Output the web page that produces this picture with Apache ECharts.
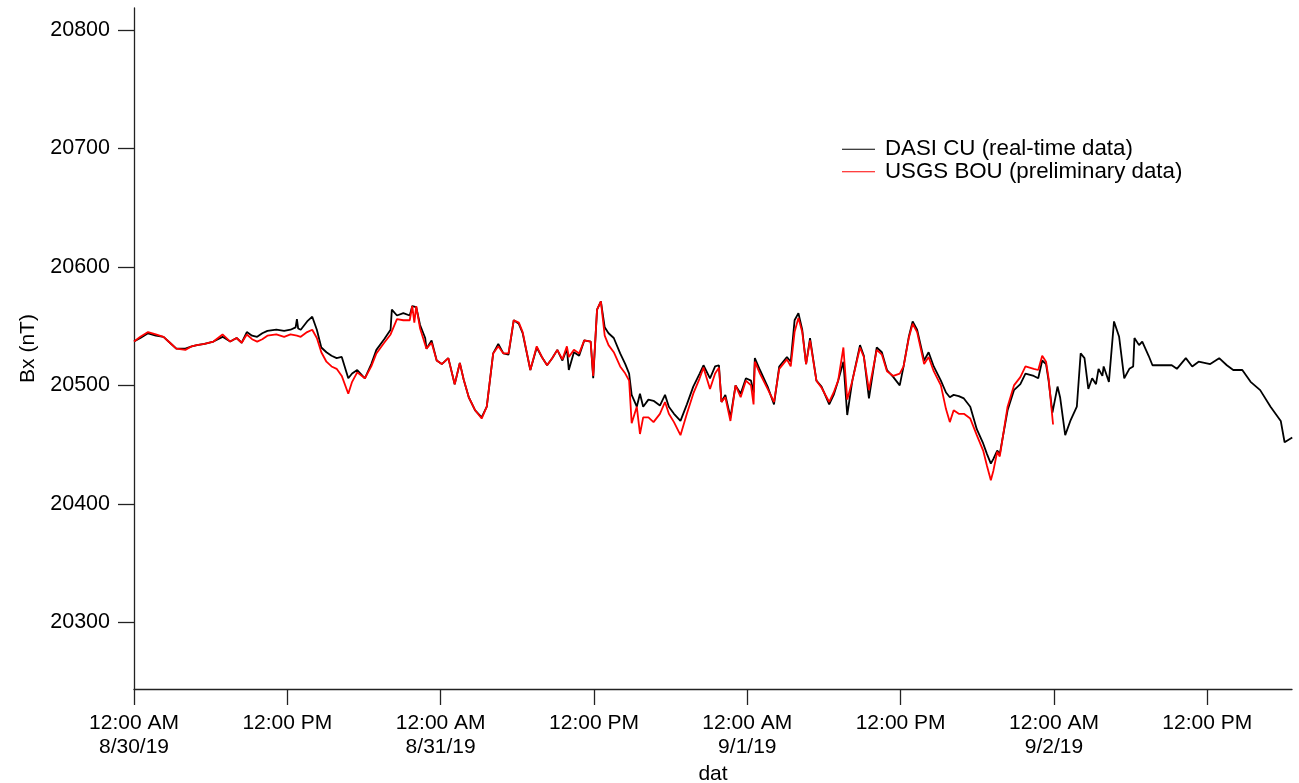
<!DOCTYPE html>
<html>
<head>
<meta charset="utf-8">
<script src="https://cdn.jsdelivr.net/npm/echarts@6/dist/echarts.min.js"></script>
<style>
html,body{margin:0;padding:0;background:#fff;}
#chart{width:1299px;height:783px;}
</style>
</head>
<body>
<div id="chart"></div>
<script>
// ---- Data (hours since 8/30/19 12:00 AM, Bx in nT) ----
const dasiHours = [0,0.5,1.1,1.71,2.31,2.81,3.31,4.02,4.52,4.92,5.52,6.22,6.93,7.53,8.03,8.43,8.83,9.24,9.64,10.04,10.44,11.14,11.75,12.25,12.65,12.75,12.85,13.05,13.55,13.95,14.31,14.66,15.06,15.46,15.86,16.26,16.77,17.07,17.47,18.07,18.57,18.97,19.58,20.08,20.18,20.58,21.08,21.58,21.78,22.09,22.39,22.79,22.89,23.29,23.69,24.09,24.6,25.1,25.5,25.8,26.2,26.7,27.21,27.61,28.11,28.51,28.91,29.31,29.72,30.12,30.42,31.02,31.52,31.92,32.33,32.73,33.13,33.53,33.88,34.03,34.43,34.84,35.24,35.74,35.94,36.24,36.54,36.84,37.14,37.55,38.05,38.45,38.75,38.95,39.35,39.6,39.85,40.26,40.66,41.16,41.56,41.86,42.26,42.77,43.27,43.77,44.27,44.57,45.08,45.48,45.78,45.98,46.28,46.68,47.08,47.48,47.89,48.29,48.49,48.59,48.99,49.59,50.09,50.5,51.1,51.4,51.7,52.0,52.3,52.6,52.91,53.41,53.81,54.41,54.76,55.11,55.52,55.82,56.22,56.82,57.12,57.52,58.13,58.53,58.93,59.43,59.93,60.23,60.64,60.94,61.29,61.84,62.19,62.59,63.15,63.55,63.85,64.15,64.55,64.95,65.45,65.96,66.46,66.76,67.06,67.26,67.56,67.76,68.37,68.87,69.37,69.77,70.42,70.77,71.08,71.38,71.58,71.88,72.28,72.48,72.88,73.28,73.79,74.09,74.39,74.69,74.99,75.29,75.49,75.79,75.89,76.3,76.7,77.1,77.5,77.9,78.2,78.3,78.66,78.91,79.41,79.71,80.61,81.22,81.62,82.32,82.82,83.32,84.23,84.93,85.53,86.03,86.74,87.39,88.14,88.95,89.75,90.05,90.65];
const dasiValues = [20537,20540,20544,20542,20541,20536,20531,20531,20533,20534,20535,20537,20541,20537,20540,20536,20545,20542,20541,20544,20546,20547,20546,20547,20549,20556,20548,20547,20554,20558,20547,20532,20528,20525,20523,20524,20506,20510,20513,20506,20518,20530,20539,20547,20564,20559,20561,20559,20567,20566,20551,20540,20531,20538,20521,20518,20523,20501,20519,20505,20490,20479,20473,20482,20527,20535,20527,20526,20555,20552,20544,20513,20532,20524,20517,20523,20530,20521,20531,20513,20528,20525,20538,20537,20506,20564,20571,20549,20544,20540,20527,20518,20510,20492,20482,20493,20482,20488,20487,20483,20492,20482,20476,20470,20484,20499,20510,20517,20506,20516,20517,20486,20492,20473,20500,20493,20506,20504,20494,20523,20513,20499,20484,20516,20524,20520,20555,20561,20547,20518,20540,20504,20499,20484,20492,20504,20520,20475,20504,20534,20525,20489,20532,20528,20513,20507,20500,20516,20541,20554,20547,20521,20528,20516,20504,20494,20490,20492,20491,20489,20482,20463,20451,20442,20434,20438,20445,20442,20479,20496,20501,20510,20508,20506,20521,20518,20504,20477,20499,20490,20458,20470,20482,20527,20523,20497,20506,20501,20514,20508,20516,20503,20554,20541,20506,20514,20516,20540,20534,20537,20525,20517,20517,20517,20514,20523,20516,20520,20518,20523,20517,20513,20513,20503,20496,20482,20470,20452,20456];

const usgsHours = [0,0.5,1.1,1.71,2.31,2.81,3.31,4.02,4.52,4.92,5.52,6.22,6.93,7.53,8.03,8.43,8.83,9.24,9.64,10.04,10.44,11.14,11.75,12.25,12.75,13.05,13.55,13.95,14.31,14.66,15.06,15.46,15.86,16.26,16.77,17.07,17.47,18.07,18.57,18.97,19.58,20.08,20.58,21.08,21.58,21.78,21.94,22.09,22.39,22.89,23.29,23.69,24.09,24.6,25.1,25.5,25.8,26.2,26.7,27.21,27.61,28.11,28.51,28.91,29.31,29.72,30.12,30.42,31.02,31.52,31.92,32.33,32.73,33.13,33.53,33.88,34.03,34.43,34.84,35.24,35.74,35.94,36.24,36.54,36.84,37.14,37.55,38.05,38.45,38.75,38.95,39.35,39.6,39.85,40.26,40.66,41.16,41.56,41.86,42.26,42.77,43.27,43.77,44.27,44.57,45.08,45.48,45.78,45.98,46.28,46.68,47.08,47.48,47.89,48.29,48.49,48.59,48.99,49.59,50.09,50.5,51.1,51.4,51.7,52.0,52.3,52.6,52.91,53.41,53.81,54.41,54.76,55.11,55.52,55.82,56.22,56.82,57.12,57.52,58.13,58.53,58.93,59.43,59.93,60.23,60.64,60.94,61.29,61.84,62.19,62.59,63.15,63.55,63.85,64.15,64.55,64.95,65.45,65.96,66.46,66.76,67.06,67.26,67.56,67.76,68.37,68.87,69.37,69.77,70.42,70.77,71.08,71.38,71.58,71.93];
const usgsValues = [20537,20541,20545,20543,20541,20536,20531,20530,20533,20534,20535,20537,20543,20537,20540,20536,20543,20539,20537,20539,20542,20543,20541,20543,20542,20541,20545,20547,20540,20528,20520,20516,20514,20508,20493,20503,20511,20506,20516,20527,20536,20543,20556,20555,20555,20567,20553,20567,20548,20531,20536,20521,20518,20523,20501,20519,20505,20490,20479,20472,20482,20527,20533,20527,20527,20555,20553,20545,20513,20533,20524,20517,20523,20530,20522,20533,20524,20530,20527,20538,20537,20508,20564,20571,20542,20534,20528,20516,20510,20504,20468,20482,20459,20473,20473,20469,20476,20486,20476,20469,20458,20476,20493,20506,20515,20497,20510,20515,20486,20490,20470,20500,20490,20504,20500,20484,20520,20510,20497,20486,20514,20522,20516,20545,20557,20545,20518,20538,20504,20498,20486,20494,20504,20532,20488,20504,20532,20524,20496,20530,20526,20512,20508,20510,20516,20540,20552,20545,20518,20524,20512,20500,20480,20469,20479,20476,20476,20472,20458,20445,20432,20420,20428,20444,20440,20482,20500,20507,20516,20514,20513,20525,20520,20506,20467];

const xTickHours = [0,12,24,36,48,60,72,84];
const xTickLabels = ['12:00 AM\n8/30/19','12:00 PM','12:00 AM\n8/31/19','12:00 PM','12:00 AM\n9/1/19','12:00 PM','12:00 AM\n9/2/19','12:00 PM'];
const yTicks = [20300,20400,20500,20600,20700,20800];
const seriesNames = ['DASI CU (real-time data)','USGS BOU (preliminary data)'];

// ---- Build ----
const pairs = (hs, vs) => hs.map((h,i)=>[h, vs[i]]);
const labelFor = v => {
  const i = xTickHours.findIndex(h => Math.abs(h - v) < 1e-6);
  return i >= 0 ? xTickLabels[i] : '';
};

const FONT = 'Liberation Sans, Arial, Helvetica, sans-serif';
const chart = echarts.init(document.getElementById('chart'), null, {renderer:'canvas'});
chart.setOption({
  animation: false,
  backgroundColor: '#ffffff',
  textStyle: {fontFamily: FONT},
  grid: {left: 134, right: 7, top: 8, bottom: 94, containLabel: false, outerBoundsMode: 'none'},
  legend: {
    orient: 'vertical',
    left: 842, top: 138,
    padding: 0,
    itemGap: 0,
    itemWidth: 33, itemHeight: 1.2,
    icon: 'rect',
    textStyle: {fontFamily: FONT, fontSize: 22.3, color: '#000', lineHeight: 22.5, padding: [0,0,0,5]},
    data: seriesNames
  },
  xAxis: {
    type: 'value',
    min: 0, max: 90.63,
    name: 'dat', nameLocation: 'middle', nameGap: 75,
    nameTextStyle: {fontFamily: FONT, fontSize: 21, color: '#000'},
    axisLine: {onZero: false, lineStyle: {color: '#222', width: 1.3}},
    axisTick: {show: true, length: 16, lineStyle: {color: '#222', width: 1.3}, customValues: xTickHours},
    axisLabel: {customValues: xTickHours, margin: 22, fontFamily: FONT, fontSize: 21, lineHeight: 24, color: '#000', align: 'center',
      formatter: v => labelFor(v)},
    splitLine: {show: false}
  },
  yAxis: {
    type: 'value',
    min: 20243.7, max: 20818.6,
    name: 'Bx (nT)', nameLocation: 'middle', nameGap: 95,
    nameTextStyle: {fontFamily: FONT, fontSize: 21, color: '#000'},
    axisLine: {show: true, lineStyle: {color: '#222', width: 1.3}},
    axisTick: {show: true, length: 16, lineStyle: {color: '#222', width: 1.3}, customValues: yTicks},
    axisLabel: {customValues: yTicks, margin: 24, fontFamily: FONT, fontSize: 21.5, color: '#000', formatter: v => String(v)},
    splitLine: {show: false}
  },
  series: [
    {name: seriesNames[0], type: 'line', data: pairs(dasiHours, dasiValues), showSymbol: false, symbol: 'none',
     lineStyle: {color: '#000', width: 1.8}, itemStyle: {color: '#000'}, silent: true},
    {name: seriesNames[1], type: 'line', data: pairs(usgsHours, usgsValues), showSymbol: false, symbol: 'none',
     lineStyle: {color: '#ff0000', width: 1.8}, itemStyle: {color: '#ff0000'}, silent: true}
  ]
});
</script>
</body>
</html>
